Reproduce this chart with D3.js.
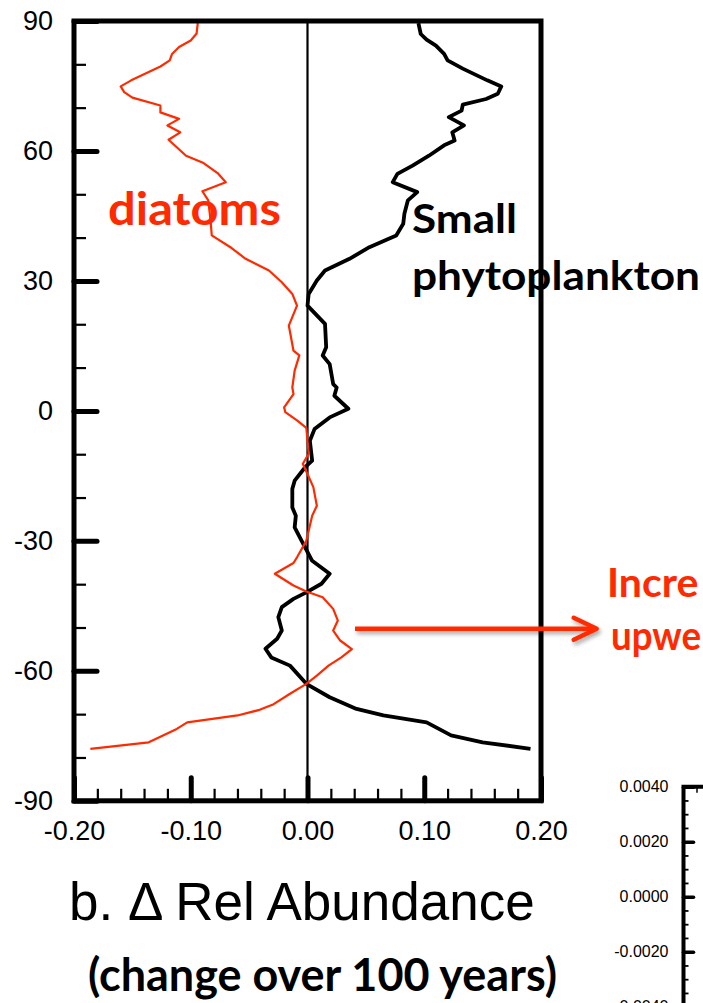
<!DOCTYPE html>
<meta charset="utf-8">
<script src="https://d3js.org/d3.v7.min.js"></script>
<style>
  body { margin: 0; background: #fff; }
</style>
<div id="chart"></div>
<script>

// ---- data ----
// latitude (deg) of each point, top to bottom
const diatomLat = [89.5, 87.1, 85.5, 84.0, 82.4, 80.9, 79.5, 76.3, 74.9, 73.6, 72.3, 70.5, 68.9, 67.4, 65.9,
  64.3, 62.6, 58.9, 57.2, 54.9, 52.8, 50.7, 48.6, 43.9, 40.5, 37.6, 35.1, 32.4, 29.7, 27.0, 24.3, 19.7,
  13.9, 12.8, 9.3, 5.4, 3.9, 0.8, -0.3, -2.2, -3.9, -9.9, -12.2, -14.0, -17.6, -21.9, -24.2, -30.0,
  -33.8, -35.1, -37.6, -40.3, -41.7, -43.0, -45.7, -48.4, -50.7, -53.0, -55.0, -56.9, -58.8, -61.1,
  -63.0, -65.3, -67.7, -69.0, -70.3, -71.9, -73.4, -76.5, -78.0];
const diatomChange = [-0.094, -0.095, -0.100, -0.110, -0.116, -0.118, -0.126, -0.151, -0.160, -0.157, -0.150,
  -0.126, -0.126, -0.110, -0.120, -0.109, -0.119, -0.104, -0.089, -0.077, -0.070, -0.090, -0.085, -0.083,
  -0.082, -0.065, -0.053, -0.033, -0.022, -0.013, -0.009, -0.016, -0.012, -0.007, -0.011, -0.013, -0.012,
  -0.020, -0.019, -0.009, -0.001, 0.001, -0.004, -0.001, 0.005, 0.008, 0.004, -0.001, -0.009, -0.012,
  -0.028, -0.012, -0.001, 0.013, 0.022, 0.026, 0.022, 0.028, 0.038, 0.029, 0.018, 0.008, -0.001, -0.015,
  -0.029, -0.041, -0.060, -0.103, -0.112, -0.136, -0.186];

const smallLat = [89.5, 87.0, 85.7, 84.3, 82.4, 80.9, 79.0, 76.3, 74.9, 73.2, 72.0, 70.7, 69.3, 67.8, 65.9,
  64.3, 62.4, 61.3, 58.9, 56.6, 54.7, 52.8, 50.5, 48.6, 45.5, 43.2, 40.5, 37.8, 35.1, 32.4, 30.1, 27.0,
  24.3, 20.1, 14.7, 12.8, 10.8, 6.2, 5.4, 3.5, 0.5, -1.5, -4.2, -6.9, -11.5, -13.0, -16.1, -18.0, -22.3,
  -24.2, -26.9, -30.0, -34.6, -37.6, -39.9, -41.9, -43.4, -45.3, -47.6, -50.7, -52.6, -54.9, -56.9,
  -58.8, -63.0, -66.1, -68.8, -70.3, -71.9, -74.9, -76.5, -78.0];
const smallChange = [0.095, 0.097, 0.102, 0.110, 0.117, 0.120, 0.133, 0.154, 0.166, 0.163, 0.153, 0.133, 0.132,
  0.121, 0.134, 0.124, 0.126, 0.117, 0.104, 0.090, 0.077, 0.073, 0.094, 0.086, 0.083, 0.082, 0.076, 0.053,
  0.036, 0.015, 0.008, 0.001, 0.000, 0.015, 0.016, 0.013, 0.019, 0.022, 0.025, 0.023, 0.035, 0.019, 0.006,
  0.002, 0.004, -0.002, -0.011, -0.013, -0.013, -0.010, -0.011, -0.005, 0.004, 0.019, 0.012, -0.001,
  -0.012, -0.022, -0.025, -0.022, -0.026, -0.036, -0.031, -0.015, -0.001, 0.019, 0.042, 0.065, 0.102,
  0.123, 0.150, 0.191];

// tick values
const latTicks = [90, 60, 30, 0, -30, -60, -90];
const latMinor = d3.range(-90, 91, 10);
const changeTicks = [-0.2, -0.1, 0, 0.1, 0.2];
const changeMinor = d3.range(-0.2, 0.2001, 0.02);
const insetTicks = [0.004, 0.002, 0, -0.002, -0.004];
const insetMinor = d3.range(-0.004, 0.00401, 0.0005);

// ---- layout ----
const W = 703, H = 1003;
const plot = {left: 74, right: 541, top: 21, bottom: 800.8};
const red = "#ff2a00";

// plain hyphen for negatives, like the original
const hyph = f => d => f(d).replace("\u2212", "-");

const svg = d3.select("#chart").append("svg")
  .attr("width", W).attr("height", H)
  .style("font-family", "'Liberation Sans', Arial, sans-serif");

const defs = svg.append("defs");
const shadow = defs.append("filter").attr("id", "shadow")
  .attr("x", "-10%").attr("y", "-50%").attr("width", "130%").attr("height", "300%");
shadow.append("feDropShadow").attr("dx", 2).attr("dy", 3).attr("stdDeviation", 2)
  .attr("flood-color", "#000").attr("flood-opacity", 0.35);

const x = d3.scaleLinear().domain([-0.2, 0.2]).range([plot.left, plot.right]);
const y = d3.scaleLinear().domain([-90, 90]).range([plot.bottom, plot.top]);

// zero line
svg.append("line")
  .attr("x1", x(0)).attr("x2", x(0))
  .attr("y1", plot.top).attr("y2", plot.bottom)
  .attr("stroke", "#000").attr("stroke-width", 2.2);

// curves
const line = d3.line()
  .x(d => x(d.v))
  .y(d => y(d.lat));

const smallData = smallLat.map((lat, i) => ({lat: lat, v: smallChange[i]}));
const diatomData = diatomLat.map((lat, i) => ({lat: lat, v: diatomChange[i]}));

svg.append("path")
  .datum(smallData)
  .attr("d", line)
  .attr("fill", "none")
  .attr("stroke", "#000")
  .attr("stroke-width", 3.8)
  .attr("stroke-linejoin", "round");

svg.append("path")
  .datum(diatomData)
  .attr("d", line)
  .attr("fill", "none")
  .attr("stroke", red)
  .attr("stroke-width", 2.2)
  .attr("stroke-linejoin", "round");

// y axis: minor + major ticks pointing inward
const yMinor = svg.append("g")
  .attr("transform", `translate(${plot.left},0)`)
  .call(d3.axisLeft(y).tickValues(latMinor).tickSize(-12).tickFormat(""));
yMinor.selectAll(".tick line").attr("stroke-width", 2.2);

const yMajor = svg.append("g")
  .attr("transform", `translate(${plot.left},0)`)
  .call(d3.axisLeft(y).tickValues(latTicks).tickSize(-23).tickPadding(21).tickFormat(hyph(d3.format("d"))));
yMajor.selectAll(".tick line").attr("stroke-width", 5).attr("stroke-linecap", "round");
yMajor.selectAll("text").style("font-size", "27px").attr("fill", "#000");

// x axis
const xMinor = svg.append("g")
  .attr("transform", `translate(0,${plot.bottom})`)
  .call(d3.axisBottom(x).tickValues(changeMinor).tickSize(-12).tickFormat(""));
xMinor.selectAll(".tick line").attr("stroke-width", 2.2);

const xMajor = svg.append("g")
  .attr("transform", `translate(0,${plot.bottom})`)
  .call(d3.axisBottom(x).tickValues(changeTicks).tickSize(-23).tickPadding(20).tickFormat(hyph(d3.format(".2f"))));
xMajor.selectAll(".tick line").attr("stroke-width", 5).attr("stroke-linecap", "round");
xMajor.selectAll("text").style("font-size", "27px").attr("fill", "#000");

svg.selectAll(".domain").remove();

// frame
svg.append("rect")
  .attr("x", plot.left).attr("y", plot.top)
  .attr("width", plot.right - plot.left)
  .attr("height", plot.bottom - plot.top)
  .attr("fill", "none")
  .attr("stroke", "#000")
  .attr("stroke-width", 5);

// labels
svg.append("text")
  .attr("x", 108).attr("y", 225)
  .attr("textLength", 173).attr("lengthAdjust", "spacingAndGlyphs")
  .style("font-family", "Lato, 'Open Sans', sans-serif").style("font-weight", "bold")
  .style("font-size", "46px").attr("fill", red)
  .text("diatoms");

svg.append("text")
  .attr("x", 412).attr("y", 233)
  .attr("textLength", 105).attr("lengthAdjust", "spacingAndGlyphs")
  .style("font-family", "Lato, 'Open Sans', sans-serif").style("font-weight", "bold")
  .style("font-size", "41px").attr("fill", "#000")
  .text("Small");

svg.append("text")
  .attr("x", 412).attr("y", 290)
  .attr("textLength", 288).attr("lengthAdjust", "spacingAndGlyphs")
  .style("font-family", "Lato, 'Open Sans', sans-serif").style("font-weight", "bold")
  .style("font-size", "41px").attr("fill", "#000")
  .text("phytoplankton");

// upwelling annotation: only the part inside the frame of the original is visible
svg.append("text")
  .attr("x", 607).attr("y", 597)
  .style("font-family", "Lato, 'Open Sans', sans-serif").style("font-weight", "bold")
  .style("font-size", "41px").attr("fill", red)
  .text("Incre");

svg.append("text")
  .attr("x", 611).attr("y", 650)
  .attr("textLength", 90).attr("lengthAdjust", "spacingAndGlyphs")
  .style("font-family", "Lato, 'Open Sans', sans-serif").style("font-weight", "bold")
  .style("font-size", "41px").attr("fill", red)
  .text("upwe");

// arrow
const arrowLat = -50.3, arrowFrom = 0.0407, arrowTip = 0.2477;
const arrow = svg.append("g").attr("filter", "url(#shadow)");
arrow.append("line")
  .attr("x1", x(arrowFrom)).attr("x2", x(arrowTip) - 2)
  .attr("y1", y(arrowLat)).attr("y2", y(arrowLat))
  .attr("stroke", red).attr("stroke-width", 4.5);
arrow.append("path")
  .attr("d", `M${x(arrowTip) - 23},${y(arrowLat) - 11}L${x(arrowTip)},${y(arrowLat)}L${x(arrowTip) - 23},${y(arrowLat) + 11}`)
  .attr("fill", "none").attr("stroke", red).attr("stroke-width", 4.5)
  .attr("stroke-linecap", "round").attr("stroke-linejoin", "round");

// axis title
svg.append("text")
  .attr("x", 69).attr("y", 920)
  .style("font-size", "53px").attr("fill", "#000")
  .text("b. \u0394 Rel Abundance");

svg.append("text")
  .attr("x", 88).attr("y", 991)
  .attr("textLength", 469).attr("lengthAdjust", "spacingAndGlyphs")
  .style("font-family", "Lato, 'Open Sans', sans-serif").style("font-weight", "bold")
  .style("font-size", "45px").attr("fill", "#000")
  .text("(change over 100 years)");

// neighbouring panel, only its corner shows
const inset = {left: 683.5, top: 786.7};
const yIn = d3.scaleLinear().domain([-0.004, 0.004]).range([1006.7, inset.top]);

const inMinor = svg.append("g")
  .attr("transform", `translate(${inset.left},0)`)
  .call(d3.axisLeft(yIn).tickValues(insetMinor).tickSize(-5).tickFormat(""));
inMinor.selectAll(".tick line").attr("stroke-width", 1.8);

const inMajor = svg.append("g")
  .attr("transform", `translate(${inset.left},0)`)
  .call(d3.axisLeft(yIn).tickValues(insetTicks).tickSize(-10).tickPadding(15).tickFormat(hyph(d3.format(".4f"))));
inMajor.selectAll(".tick line").attr("stroke-width", 3.5).attr("stroke-linecap", "round");
inMajor.selectAll("text").style("font-size", "16px").attr("fill", "#000");
inMajor.selectAll(".domain").remove();
inMinor.selectAll(".domain").remove();

svg.append("path")
  .attr("d", `M${inset.left},${H + 5}V${inset.top}H${W + 5}`)
  .attr("fill", "none").attr("stroke", "#000").attr("stroke-width", 4);
svg.append("line")
  .attr("x1", 697).attr("x2", 697)
  .attr("y1", inset.top).attr("y2", inset.top + 6)
  .attr("stroke", "#000").attr("stroke-width", 1.5);

</script>
